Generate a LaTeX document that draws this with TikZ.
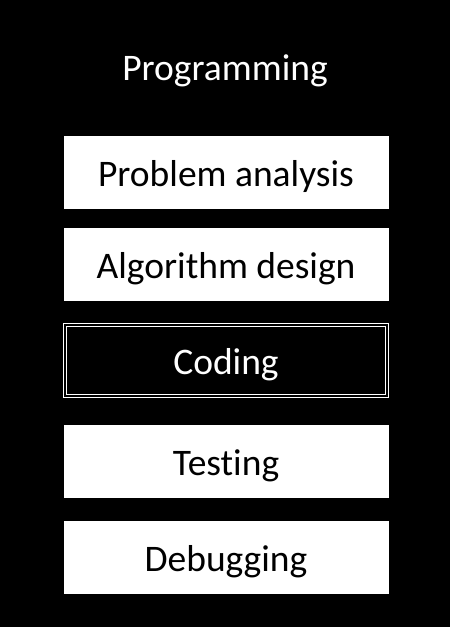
\documentclass[tikz,border=0pt]{standalone}
\usepackage{fontspec}
\setmainfont{Carlito}[Ligatures={NoCommon}]
\begin{document}
\begin{tikzpicture}[x=1pt,y=-1pt,
  txt/.style={font=\fontsize{37.5}{40}\selectfont, text height=28pt, text depth=0pt},
  stepbox/.style={txt, draw=black, fill=white, text=black, minimum width=326pt, minimum height=74pt, inner sep=0pt, line width=0.8pt},
  activebox/.style={txt, draw=white, double=black, double distance=2pt, line width=0.9pt, fill=black, text=white, minimum width=322pt, minimum height=71pt, inner sep=0pt},
  titletext/.style={txt, text=white}]
\fill[black] (0,0) rectangle (450,627);
\useasboundingbox (0,0) rectangle (450,627);
\node[titletext] (title) at (225,66) {Programming};
\node[stepbox] (analysis) at (226,172) {Problem analysis};
\node[stepbox] (design) at (226,264) {Algorithm design};
\node[activebox] (coding) at (226,360.5) {Coding};
\node[stepbox] (testing) at (226,461) {Testing};
\node[stepbox] (debugging) at (226,557.5) {Debugging};
\end{tikzpicture}
\end{document}
